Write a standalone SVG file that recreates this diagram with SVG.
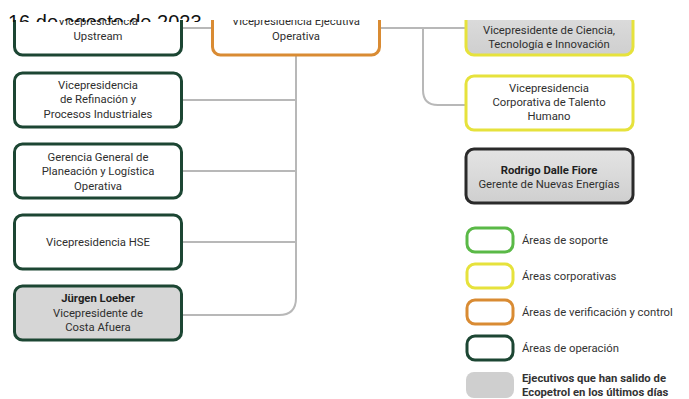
<svg xmlns="http://www.w3.org/2000/svg" width="689" height="399" viewBox="0 0 689 399">
<style>
.t{font-family:Roboto,"Liberation Sans",sans-serif;font-size:11.3px;fill:#2f2f2f;text-anchor:middle}
.b{font-weight:bold;fill:#1f1f1f}
.lg{font-family:Roboto,"Liberation Sans",sans-serif;font-size:11.3px;fill:#333}
.op{fill:#fff;stroke:#1c4633;stroke-width:3}
.co{fill:#fff;stroke:#e6e23c;stroke-width:3}
.ve{fill:#fff;stroke:#d98b33;stroke-width:3}
.cn{fill:none;stroke:#b8b8b8;stroke-width:2}
</style>
<defs>
<clipPath id="img"><rect x="0" y="20" width="689" height="379"/></clipPath>
<clipPath id="top"><rect x="0" y="0" width="689" height="22"/></clipPath>
<linearGradient id="gg" x1="0" y1="0" x2="0" y2="1"><stop offset="0" stop-color="#e4e4e4"/><stop offset="1" stop-color="#cfcfcf"/></linearGradient>
</defs>
<rect width="689" height="399" fill="#fff"/>
<g clip-path="url(#img)">
<g id="connectors">
<path class="cn" d="M181,28 H212"/>
<path class="cn" d="M380,28 H466"/>
<path class="cn" d="M423,28 V90 Q423,105 438,105 H466"/>
<path class="cn" d="M296,54 V298 Q296,315 279,315 H181"/>
<path class="cn" d="M181,100 H296"/>
<path class="cn" d="M181,171 H296"/>
<path class="cn" d="M181,242 H296"/>
</g>
<g id="upstream">
<rect class="op" x="14.5" y="-10" width="167" height="65" rx="8"/>
<text class="t" x="98" y="25">Vicepresidencia</text>
<text class="t" x="98" y="40">Upstream</text>
</g>
<g id="vp-ejecutiva">
<rect class="ve" x="212.5" y="-10" width="167" height="65" rx="8"/>
<text class="t" x="296" y="25">Vicepresidencia Ejecutiva</text>
<text class="t" x="296" y="40">Operativa</text>
</g>
<g id="ciencia">
<rect class="co" x="466" y="-10" width="167" height="65" rx="8" style="fill:url(#gg)"/>
<text class="t" x="549" y="34">Vicepresidente de Ciencia,</text>
<text class="t" x="549" y="48">Tecnología e Innovación</text>
</g>
<g id="talento">
<rect class="co" x="466" y="76" width="167" height="54" rx="8"/>
<text class="t" x="549" y="92">Vicepresidencia</text>
<text class="t" x="549" y="106">Corporativa de Talento</text>
<text class="t" x="549" y="120">Humano</text>
</g>
<g id="refinacion">
<rect class="op" x="14.5" y="73" width="167" height="54" rx="8"/>
<text class="t" x="98" y="89">Vicepresidencia</text>
<text class="t" x="98" y="103">de Refinación y</text>
<text class="t" x="98" y="118">Procesos Industriales</text>
</g>
<g id="planeacion">
<rect class="op" x="14.5" y="144" width="167" height="54" rx="8"/>
<text class="t" x="98" y="161">Gerencia General de</text>
<text class="t" x="98" y="175">Planeación y Logística</text>
<text class="t" x="98" y="190">Operativa</text>
</g>
<g id="hse">
<rect class="op" x="14.5" y="215" width="167" height="54" rx="8"/>
<text class="t" x="98" y="246">Vicepresidencia HSE</text>
</g>
<g id="loeber">
<rect class="op" x="14.5" y="286" width="167" height="54" rx="8" style="fill:#d6d6d6"/>
<text class="t b" x="98" y="302">Jürgen Loeber</text>
<text class="t" x="98" y="317">Vicepresidente de</text>
<text class="t" x="98" y="331">Costa Afuera</text>
</g>
<g id="dalle-fiore">
<rect x="466" y="149" width="167" height="54" rx="8" fill="url(#gg)" stroke="#2a2a2a" stroke-width="3"/>
<text class="t b" x="549" y="174">Rodrigo Dalle Fiore</text>
<text class="t" x="549" y="188">Gerente de Nuevas Energías</text>
</g>
<g id="legend">
<rect x="467" y="228" width="46" height="24" rx="8" fill="#fff" stroke="#5ab947" stroke-width="3"/>
<text class="lg" x="522" y="244">Áreas de soporte</text>
<rect x="467" y="264" width="46" height="24" rx="8" fill="#fff" stroke="#e6e23c" stroke-width="3"/>
<text class="lg" x="522" y="280">Áreas corporativas</text>
<rect x="467" y="300" width="46" height="24" rx="8" fill="#fff" stroke="#d98b33" stroke-width="3"/>
<text class="lg" x="522" y="316">Áreas de verificación y control</text>
<rect x="467" y="336" width="46" height="24" rx="8" fill="#fff" stroke="#1c4633" stroke-width="3"/>
<text class="lg" x="522" y="352">Áreas de operación</text>
<rect x="466" y="372" width="48" height="26" rx="8" fill="#cfcfcf"/>
<text class="lg b" x="522" y="382">Ejecutivos que han salido de</text>
<text class="lg b" x="522" y="396">Ecopetrol en los últimos días</text>
</g>
</g>
<text clip-path="url(#top)" x="8" y="29" font-family="'Liberation Sans',Arial,sans-serif" font-size="20" fill="#111">16 de agosto de 2023</text>
</svg>
